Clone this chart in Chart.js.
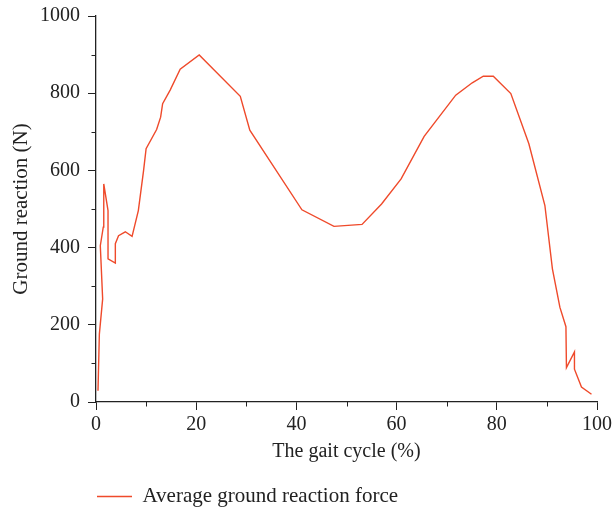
<!DOCTYPE html>
<html><head><meta charset="utf-8">
<script src="https://cdn.jsdelivr.net/npm/chart.js@4"></script>
<style>html,body{margin:0;padding:0;background:#fff;overflow:hidden}
#wrap{width:613px;height:513px;position:relative}</style>
</head><body><div id="wrap"><canvas id="c"></canvas></div>
<script>
const gaitCycle = [0.4, 0.67, 1.33, 0.86, 1.45, 1.55, 2.4, 2.4, 3.86, 3.86, 4.5, 5.85, 7.2, 8.45, 9.5, 10.0, 12.1, 12.9, 13.3, 14.8, 16.8, 20.6, 28.8, 30.7, 41.1, 47.5, 53.1, 57.0, 60.9, 65.5, 71.8, 75.1, 77.3, 79.3, 82.8, 86.4, 89.6, 91.1, 92.6, 93.8, 93.9, 95.5, 95.5, 96.9, 98.9];
const groundReaction = [29, 176, 267, 405, 453, 565, 496, 371, 360, 410, 431, 441, 429, 496, 600, 656, 706, 738, 773, 808, 862, 899, 792, 704, 498, 455, 460, 513, 578, 688, 795, 827, 844, 844, 799, 669, 509, 345, 245, 195, 89, 130, 85, 39, 20];
const xMajorTicks = [0, 20, 40, 60, 80, 100];
const xMinorTicks = [10, 30, 50, 70, 90];
const yMajorTicks = [0, 200, 400, 600, 800, 1000];
const yMinorTicks = [100, 300, 500, 700, 900];
const seriesLabel = 'Average ground reaction force';
const xTitle = 'The gait cycle (%)';
const yTitle = 'Ground reaction (N)';

const FONT = "'Liberation Serif', 'Times New Roman', serif";
const AXIS = '#222';
const LINE = '#ef4a2b';

const points = gaitCycle.map((x, i) => ({x, y: groundReaction[i]}));

const minorTicks = {
  id: 'minorTicks',
  afterDatasetsDraw(chart) {
    const {ctx, chartArea: a, scales: {x, y}} = chart;
    ctx.save();
    ctx.strokeStyle = AXIS;
    ctx.lineWidth = 1;
    ctx.beginPath();
    xMinorTicks.forEach(v => {
      const px = Math.round(x.getPixelForValue(v)) + 0.5;
      ctx.moveTo(px, a.bottom); ctx.lineTo(px, a.bottom + 4.5);
    });
    yMinorTicks.forEach(v => {
      const py = Math.round(y.getPixelForValue(v)) + 0.5;
      ctx.moveTo(a.left - 4.5, py); ctx.lineTo(a.left, py);
    });
    ctx.stroke();
    ctx.restore();
  },
  afterLayout(chart) {
    const lg = chart.legend;
    if (lg) { lg.left = 87; lg.top = 476; }
  }
};

new Chart(document.getElementById('c'), {
  type: 'scatter',
  data: { datasets: [{
    label: seriesLabel,
    data: points,
    showLine: true,
    borderColor: LINE,
    backgroundColor: LINE,
    borderWidth: 1.4,
    pointRadius: 0,
    tension: 0
  }]},
  options: {
    responsive: true,
    maintainAspectRatio: false,
    animation: false,
    layout: { padding: { top: 16, right: 16, left: 0, bottom: 0 } },
    plugins: {
      tooltip: { enabled: false },
      legend: {
        position: 'bottom',
        align: 'start',
        labels: {
          usePointStyle: true,
          pointStyle: 'line',
          pointStyleWidth: 35,
          color: '#222',
          padding: 10,
          font: { family: FONT, size: 21 }
        }
      }
    },
    scales: {
      x: {
        type: 'linear', min: 0, max: 100,
        afterFit: s => { s.height = 70; s.paddingRight = 0; s.paddingLeft = 0; },
        afterBuildTicks: s => { s.ticks = xMajorTicks.map(v => ({value: v})); },
        grid: { drawOnChartArea: false, drawTicks: true, tickLength: 8, color: AXIS, lineWidth: 1 },
        border: { display: true, color: AXIS, width: 1.3 },
        ticks: { color: '#222', padding: 3, maxRotation: 0, font: { family: FONT, size: 20 }, callback: v => String(v) },
        title: { display: true, text: xTitle, color: '#222', padding: { top: 0, bottom: 8 }, font: { family: FONT, size: 20 } }
      },
      y: {
        type: 'linear', min: 0, max: 1000,
        afterFit: s => { s.width = 96; s.paddingTop = 0; s.paddingBottom = 0; },
        afterBuildTicks: s => { s.ticks = yMajorTicks.map(v => ({value: v})); },
        grid: { drawOnChartArea: false, drawTicks: true, tickLength: 8, color: AXIS, lineWidth: 1 },
        border: { display: true, color: AXIS, width: 1.3 },
        ticks: { color: '#222', padding: 8, font: { family: FONT, size: 20 }, callback: v => String(v) },
        title: { display: true, text: yTitle, color: '#222', padding: { top: 9, bottom: 0 }, font: { family: FONT, size: 21 } }
      }
    }
  },
  plugins: [minorTicks]
});
</script>
</body></html>
